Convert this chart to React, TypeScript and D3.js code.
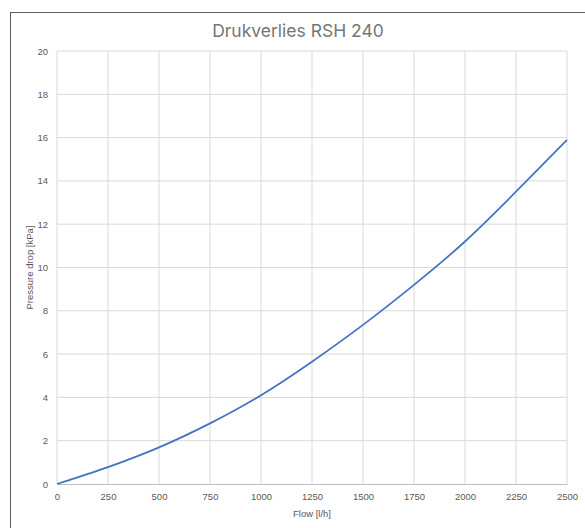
import { useEffect, useRef } from "react";
import * as d3 from "d3";

const flow = [0, 250, 500, 750, 1000, 1250, 1500, 1750, 2000, 2250, 2500];
const pressure = [0, 0.78, 1.69, 2.8, 4.1, 5.65, 7.35, 9.2, 11.2, 13.5, 15.9];
const xTicks = [0, 250, 500, 750, 1000, 1250, 1500, 1750, 2000, 2250, 2500];
const yTicks = [0, 2, 4, 6, 8, 10, 12, 14, 16, 18, 20];

const title = "Drukverlies RSH 240";
const xTitle = "Flow [l/h]";
const yTitle = "Pressure drop [kPa]";

export default function App() {
  const width = 585;
  const height = 528;
  const marginLeft = 57;
  const marginRight = 18;
  const marginTop = 51;
  const marginBottom = 44;

  const gx = useRef<SVGGElement>(null);
  const gy = useRef<SVGGElement>(null);

  const x = d3.scaleLinear([0, 2500], [marginLeft, width - marginRight]);
  const y = d3.scaleLinear([0, 20], [height - marginBottom, marginTop]);
  const line = d3
    .line<number>((_, i) => x(flow[i]), (d) => y(d))
    .curve(d3.curveNatural);

  useEffect(() => {
    const ax = d3.select(gx.current);
    ax.call(d3.axisBottom(x).tickValues(xTicks).tickSize(0).tickPadding(9).tickFormat(d3.format("d")));
    ax.select(".domain").attr("stroke", "#bfbfbf");
    ax.selectAll("text").attr("fill", "#595959").attr("font-size", 9.5).attr("font-family", "Liberation Sans, sans-serif");

    const ay = d3.select(gy.current);
    ay.call(d3.axisLeft(y).tickValues(yTicks).tickSize(0).tickPadding(9));
    ay.select(".domain").remove();
    ay.selectAll("text").attr("fill", "#595959").attr("font-size", 9.5).attr("font-family", "Liberation Sans, sans-serif");
  }, []);

  return (
    <svg width={width} height={height} style={{ position: "absolute", left: 0, top: 0, background: "white" }}>
      <rect x={10.5} y={12.5} width={width} height={height} fill="white" stroke="#5f5f5f" strokeWidth={1} />
      <text x={298} y={37} textAnchor="middle" fontFamily="Inter, sans-serif" fontSize={17.5} fill="#767676">
        {title}
      </text>
      <g stroke="#d9d9d9" strokeWidth={1}>
        {xTicks.map((t) => (
          <line key={"x" + t} x1={x(t)} x2={x(t)} y1={y(20)} y2={y(0)} />
        ))}
        {yTicks.slice(1).map((t) => (
          <line key={"y" + t} x1={x(0)} x2={x(2500)} y1={y(t)} y2={y(t)} />
        ))}
      </g>
      <g ref={gx} transform={`translate(0,${height - marginBottom})`} />
      <g ref={gy} transform={`translate(${marginLeft},0)`} />
      <path fill="none" stroke="#4472c4" strokeWidth={1.75} d={line(pressure) ?? ""} />
      <text
        transform={`translate(33,${(y(0) + y(20)) / 2}) rotate(-90)`}
        textAnchor="middle"
        fontFamily="Liberation Sans, sans-serif"
        fontSize={9.5}
        fill="#595959"
      >
        {yTitle}
      </text>
      <text
        x={(x(0) + x(2500)) / 2}
        y={517}
        textAnchor="middle"
        fontFamily="Liberation Sans, sans-serif"
        fontSize={9.5}
        fill="#595959"
      >
        {xTitle}
      </text>
    </svg>
  );
}
